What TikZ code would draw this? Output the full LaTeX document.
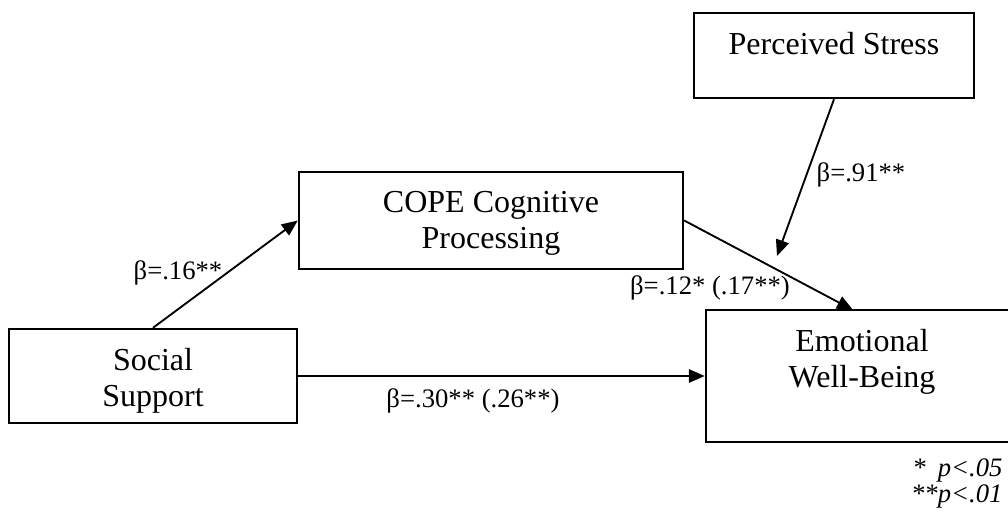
\documentclass[tikz,border=0pt]{standalone}
\usepackage{fontspec}
\setmainfont{Liberation Serif}
\usepackage{tikz}
\usetikzlibrary{arrows.meta,positioning}
\tikzset{
  varbox/.style  ={draw=black, line width=0.9pt, inner sep=0pt},
  vartext/.style ={align=center, inner sep=0pt,
                   font=\fontsize{12}{13.5}\selectfont},
  patharr/.style ={-{Triangle[length=6pt,width=5pt]}, line width=0.7pt},
  coef/.style    ={anchor=base, inner sep=0pt, font=\fontsize{10}{12}\selectfont},
}

\begin{document}
\begin{tikzpicture}[x=0.375pt,y=-0.375pt]
  \useasboundingbox (0,0) rectangle (1008,517);
  % variables
  \node[varbox,minimum width=105pt,minimum height=31.9pt] (stress) at (834,55.5) {};
  \node[vartext,below=7.5pt of stress.north] (stresstxt) {Perceived Stress};
  \node[varbox,minimum width=144pt,minimum height=36.4pt] (cope) at (491,220.5) {};
  \node[vartext,below=7.5pt of cope.north] (copetxt) {COPE Cognitive\\Processing};
  \node[varbox,minimum width=108pt,minimum height=35.25pt] (support) at (153,376) {};
  \node[vartext,below=7.5pt of support.north] (supporttxt) {Social\\Support};
  \node[varbox,minimum width=117pt,minimum height=49.5pt] (wellbeing) at (862,376) {};
  \node[vartext,below=7.5pt of wellbeing.north] (wellbeingtxt) {Emotional\\Well-Being};
  \coordinate (wbin) at (853,310);
  \coordinate (modtip) at (777,256);
  % paths
  \draw[patharr] (support.north) -- (cope.west);
  \draw[patharr] (support.east) -- (wellbeing.west);
  \draw[patharr] (cope.east) -- (wbin);
  \draw[patharr] (stress.south) -- (modtip);
  % coefficients
  \node[coef] (b16) at (178,280) {β=.16**};
  \node[coef] (b91) at (861,182) {β=.91**};
  \node[coef] (b12) at (710,295) {β=.12* (.17**)};
  \node[coef] (b30) at (473,407) {β=.30** (.26**)};
  \node[coef,anchor=base east,align=right,font=\fontsize{10}{9.4}\selectfont\itshape]
    (sigkey) at (1003,502) {*\hspace{0.45em}p<.05\\**p<.01};
\end{tikzpicture}
\end{document}
